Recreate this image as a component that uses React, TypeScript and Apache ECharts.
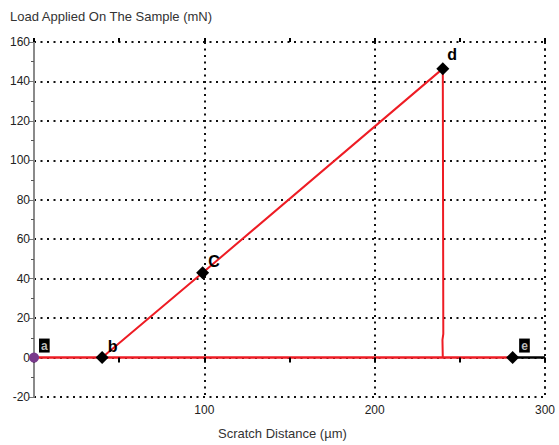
import React, { useEffect, useRef } from "react";
import * as echarts from "echarts";

const xTickLabels = ["100", "200", "300"];
const baselineX = [0, 281];
const baselineY = [0, 0];
const profileX = [40, 99, 240, 240.3, 239.8, 240];
const profileY = [0, 43, 146.5, 12, 9, 0];
const tailX = [281, 300];
const tailY = [0, 0];
const pointNames = ["a", "b", "C", "d", "e"];
const pointX = [0, 40, 99, 240, 281];
const pointY = [0, 0, 43, 146.5, 0];

const FONT = "'Liberation Sans', Arial, sans-serif";

export default function App() {
  const ref = useRef<HTMLDivElement>(null);
  useEffect(() => {
    const chart = echarts.init(ref.current!, null, { renderer: "svg" });
    const pts = pointNames.map((n, i) => {
      const boxed = n === "a" || n === "e";
      return {
        value: [pointX[i], pointY[i]],
        name: n,
        symbol: n === "a" ? "circle" : "diamond",
        symbolSize: n === "a" ? 10 : 13,
        itemStyle: { color: n === "a" ? "#7a3a8c" : "#000", opacity: 1 },
        label: {
          show: true,
          formatter: n,
          position: "right",
          distance: 1,
          offset: boxed ? [-1, -12] : n === "d" ? [-3, -14] : [-2, -11],
          fontFamily: FONT,
          fontWeight: "bold",
          fontSize: boxed ? 12 : 16,
          color: boxed ? "#bbb" : "#000",
          backgroundColor: boxed ? "#000" : "transparent",
          padding: boxed ? [1, 2] : 0,
        },
      };
    });
    chart.setOption({
      animation: false,
      grid: { left: 34, right: 14, top: 42, bottom: 48 },
      xAxis: [
        {
          type: "value",
          min: 0,
          max: 300,
          interval: 100,
          position: "bottom",
          axisLine: { show: false, onZero: false },
          axisTick: { show: false },
          axisLabel: {
            fontFamily: FONT,
            fontSize: 12,
            color: "#222",
            margin: 7,
            formatter: (v: number) => (xTickLabels.includes(String(v)) ? String(v) : ""),
          },
          splitLine: { show: true, lineStyle: { color: "#111", width: 2, type: [2, 4.5] } },
        },
        {
          type: "value",
          min: 0,
          max: 300,
          interval: 50,
          position: "bottom",
          z: 4,
          axisLine: { show: false, onZero: true },
          axisTick: { show: true, length: 5, lineStyle: { color: "#000", width: 2 } },
          axisLabel: { show: false },
          splitLine: { show: false },
        },
        {
          type: "value",
          min: 0,
          max: 300,
          interval: 50,
          position: "top",
          z: 4,
          axisLine: { show: false, onZero: true },
          axisTick: { show: true, length: 4, lineStyle: { color: "#000", width: 2 } },
          axisLabel: { show: false },
          splitLine: { show: false },
        },
      ],
      yAxis: {
        type: "value",
        min: -20,
        max: 160,
        interval: 20,
        axisLine: { show: true, onZero: false, lineStyle: { color: "#8a8a8a", width: 2 } },
        axisTick: { show: true, length: 5, lineStyle: { color: "#777" } },
        minorTick: { show: true, splitNumber: 2, length: 3, lineStyle: { color: "#555" } },
        axisLabel: { fontFamily: FONT, fontSize: 12, color: "#222", margin: 4 },
        splitLine: { show: true, lineStyle: { color: "#111", width: 2, type: [2, 4.5] } },
      },
      graphic: [
        {
          type: "text",
          left: 10,
          top: 10,
          style: { text: "Load Applied On The Sample (mN)", font: `13px ${FONT}`, fill: "#333" },
        },
        {
          type: "text",
          left: 218,
          top: 427,
          style: { text: "Scratch Distance (µm)", font: `13px ${FONT}`, fill: "#333" },
        },
        {
          type: "line",
          shape: { x1: 545, y1: 42, x2: 545, y2: 397 },
          style: { stroke: "#111", lineWidth: 2, lineDash: [2, 4.5] },
          z: 0,
        },
      ],
      series: [
        {
          type: "line",
          data: baselineX.map((x, i) => [x, baselineY[i]]),
          symbol: "none",
          lineStyle: { color: "#ee1c24", width: 2.5 },
          z: 3,
        },
        {
          type: "line",
          data: profileX.map((x, i) => [x, profileY[i]]),
          symbol: "none",
          lineStyle: { color: "#ee1c24", width: 2 },
          z: 3,
        },
        {
          type: "line",
          data: tailX.map((x, i) => [x, tailY[i]]),
          symbol: "none",
          lineStyle: { color: "#000", width: 2.5 },
          z: 3,
        },
        {
          type: "scatter",
          data: pts,
          z: 5,
        },
      ],
    });
    return () => chart.dispose();
  }, []);
  return (
    <div
      ref={ref}
      style={{ position: "fixed", left: 0, top: 0, width: 559, height: 445, background: "#fff" }}
    />
  );
}
